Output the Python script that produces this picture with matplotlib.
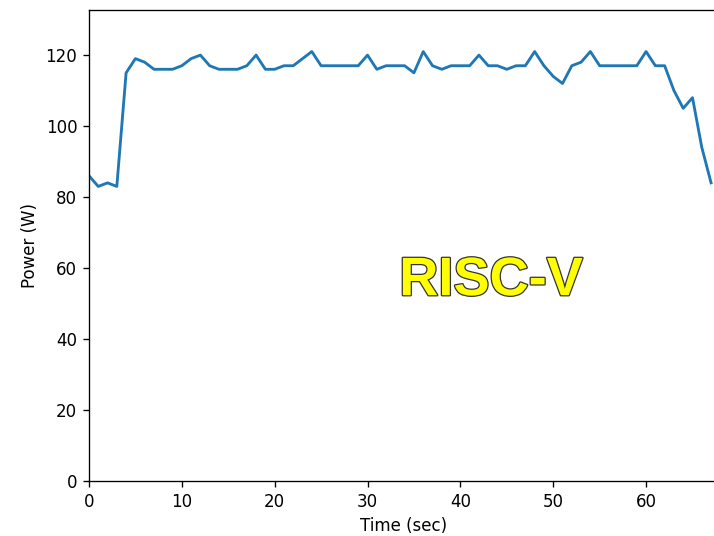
import matplotlib.pyplot as plt
import matplotlib.patheffects as pe

time_sec = list(range(68))
power_w = [86, 83, 84, 83, 115, 119, 118, 116, 116, 116,
           117, 119, 120, 117, 116, 116, 116, 117, 120, 116,
           116, 117, 117, 119, 121, 117, 117, 117, 117, 117,
           120, 116, 117, 117, 117, 115, 121, 117, 116, 117,
           117, 117, 120, 117, 117, 116, 117, 117, 121, 117,
           114, 112, 117, 118, 121, 117, 117, 117, 117, 117,
           121, 117, 117, 110, 105, 108, 94, 84]
label = "RISC-V"

fig = plt.figure(figsize=(5.95, 4.4667), dpi=120)
# axes run a little past the right edge, so the right spine is cut off
ax = fig.add_axes([0.1246, 0.1026, 0.8804, 0.8787])
ax.plot(time_sec, power_w, color="C0", lw=1.7)
ax.set_xlim(0, 67.7)
ax.set_ylim(0, 132.7)
ax.set_xlabel("Time (sec)")
ax.set_ylabel("Power (W)")

ax.text(43.3, 56.3, label, fontsize=32.5, fontweight="bold", color="yellow",
        family=["Liberation Sans", "DejaVu Sans"], ha="center", va="center",
        path_effects=[pe.withStroke(linewidth=1.5, foreground="#333333")])

fig.savefig("out.png", dpi=120)
